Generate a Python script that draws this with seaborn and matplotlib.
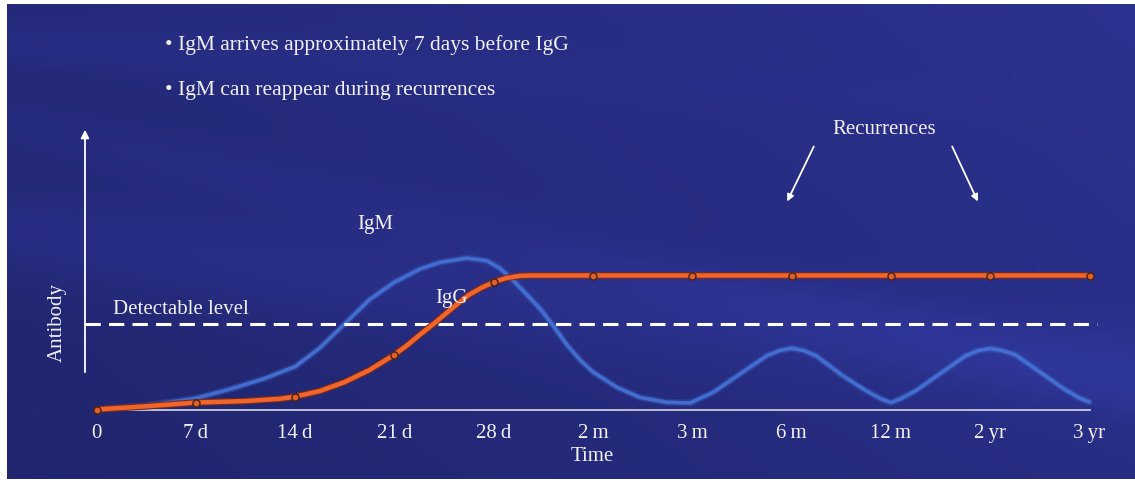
import numpy as np
import pandas as pd
import matplotlib
matplotlib.use("Agg")
import matplotlib.pyplot as plt
import matplotlib.patheffects as pe
import seaborn as sns

# tick categories along the time axis
time_labels = ['0', '7\u2009d', '14\u2009d', '21\u2009d', '28\u2009d', '2\u2009m', '3\u2009m',
               '6\u2009m', '12\u2009m', '2\u2009yr', '3\u2009yr']

# IgG curve (position on tick scale, relative antibody level)
igg_x = [0, 0.5, 1, 1.5, 1.85, 2, 2.25, 2.5, 2.75, 3, 3.13, 3.26, 3.39, 3.5, 3.63, 3.75, 3.88, 4,
         4.12, 4.27, 4.4, 5, 6, 7, 8, 9, 10]
igg_y = [0, 2.4, 5.2, 6.3, 8.0, 9.6, 13.8, 20.5, 29.5, 40.9, 48, 56, 63.6, 70.5, 78.5, 85.5, 91, 95,
         98, 99.8, 100, 100, 100, 100, 100, 100, 100]

# IgG markers sit on every tick
igg_mark_x = [0, 1, 2, 3, 4, 5, 6, 7, 8, 9, 10]
igg_mark_y = [0, 5.2, 9.6, 40.9, 95, 100, 100, 100, 100, 100, 100]

# IgM curve
igm_x = [0, 0.5, 1, 1.35, 1.68, 2, 2.25, 2.5, 2.75, 3, 3.26, 3.46, 3.73, 3.93, 4.06, 4.2, 4.33, 4.47,
         4.6, 4.74, 4.87, 5, 5.24, 5.47, 5.74, 5.98, 6.21, 6.48, 6.75, 6.88, 7, 7.12, 7.25, 7.5, 7.75,
         7.9, 8, 8.1, 8.25, 8.5, 8.75, 8.88, 9, 9.12, 9.25, 9.5, 9.75, 9.9, 10]
igm_y = [0, 2.8, 8.4, 15.3, 22.8, 32, 46, 64, 82, 95, 104.9, 109.8, 113, 111, 105.5, 96, 86, 75,
         62.5, 48, 37, 28, 16.6, 9.1, 5.4, 4.9, 12.8, 26.5, 40.1, 44, 45.7, 44, 40, 26, 14,
         8, 5.2, 8, 14, 27, 40, 44, 45.5, 44, 41, 28, 15, 8.5, 5.6]

detect_level = 63.6

sns.set_style("white")
plt.rcParams['font.family'] = ['Liberation Serif', 'DejaVu Serif']

W, H = 1135, 485
fig = plt.figure(figsize=(W / 100, H / 100), dpi=100)
fig.patch.set_facecolor('white')

# blue panel
ax = fig.add_axes([7 / W, 5 / H, 1128 / W, 475 / H])
xl = ((7 - 96.5) / 99.3, (1135 - 96.5) / 99.3)
yl = ((410.5 - 480) / 1.34, (410.5 - 5) / 1.34)
ax.set_xlim(*xl)
ax.set_ylim(*yl)

# background shading with soft light streaks
gh, gw = 240, 560
vv, uu = np.mgrid[0:1:gh * 1j, 0:1:gw * 1j]
c_dark = np.array([0.11, 0.125, 0.38])
c_light = np.array([0.19, 0.22, 0.62])
t = 0.40 + 0.35 * uu - 0.18 * (1 - vv)
t += 0.22 * np.exp(-((vv - (0.52 - 0.30 * uu)) / 0.10) ** 2)
t += 0.15 * np.exp(-((vv - (0.92 - 0.15 * uu)) / 0.05) ** 2) * (1 - uu)
t += 0.12 * np.exp(-((vv - (0.75 - 0.55 * uu)) / 0.06) ** 2)
t = np.clip(t, 0, 1)
img = c_dark[None, None, :] + (c_light - c_dark)[None, None, :] * t[:, :, None]
ax.imshow(img, extent=[xl[0], xl[1], yl[0], yl[1]], aspect='auto', zorder=0, origin='lower')

txt_c = '#f0f0f7'

# curves
igm_df = pd.DataFrame({'x': igm_x, 'y': igm_y})
sns.lineplot(data=igm_df, x='x', y='y', ax=ax, color='#4676da', lw=2.6, alpha=0.85,
             sort=False, zorder=3, solid_joinstyle='round', solid_capstyle='round',
             path_effects=[pe.Stroke(linewidth=5, foreground='#4676da', alpha=0.25), pe.Normal()])
igg_df = pd.DataFrame({'x': igg_x, 'y': igg_y})
sns.lineplot(data=igg_df, x='x', y='y', ax=ax, color='#f0652b', lw=3.2, sort=False, zorder=5,
             solid_joinstyle='round',
             path_effects=[pe.Stroke(linewidth=4.8, foreground='#7a2a18'), pe.Normal()])
sns.scatterplot(x=igg_mark_x, y=igg_mark_y, ax=ax, color='#e0602a', edgecolor='#4a2010',
                s=26, linewidth=1.0, zorder=6)

# detectable level
ax.hlines(detect_level, (85 - 96.5) / 99.3, (1097 - 96.5) / 99.3, colors='white',
          linestyles=(0, (5, 2.7)), lw=2.2, zorder=4)

# axes styling
for s in ['top', 'right', 'left']:
    ax.spines[s].set_visible(False)
ax.spines['bottom'].set_position(('data', 0))
ax.spines['bottom'].set_bounds(0, 10)
ax.spines['bottom'].set_color('#c9cadb')
ax.spines['bottom'].set_linewidth(1.3)
ax.spines['bottom'].set_zorder(2)
ax.set_xticks(range(len(time_labels)))
ax.set_xticklabels(time_labels)
ax.tick_params(axis='x', direction='inout', length=12, width=1.2, color='#c9cadb',
               labelcolor=txt_c, labelsize=15, pad=4)
ax.set_yticks([])
ax.set_xlabel('')
ax.set_ylabel('')

# y arrow
ax.annotate('', xy=(-0.116, (410.5 - 128) / 1.34), xytext=(-0.116, (410.5 - 376) / 1.34),
            arrowprops=dict(arrowstyle='-|>', color='white', lw=1.3, mutation_scale=12))

fs = 15
ax.text(4.995, (410.5 - 457) / 1.34, 'Time', color=txt_c, fontsize=fs, ha='center', va='center')
ax.text((57 - 96.5) / 99.3, (410.5 - 322) / 1.34, 'Antibody', color=txt_c, fontsize=fs,
        rotation=90, ha='center', va='center')
ax.text((113 - 96.5) / 99.3, (410.5 - 310) / 1.34, 'Detectable level', color=txt_c, fontsize=fs,
        ha='left', va='center')
ax.text((375 - 96.5) / 99.3, (410.5 - 224) / 1.34, 'IgM', color=txt_c, fontsize=fs,
        ha='center', va='center')
ax.text((451 - 96.5) / 99.3, (410.5 - 299) / 1.34, 'IgG', color=txt_c, fontsize=fs,
        ha='center', va='center', zorder=7)
ax.text((884 - 96.5) / 99.3, (410.5 - 130) / 1.34, 'Recurrences', color=txt_c, fontsize=fs,
        ha='center', va='center')
for (x0, x1) in [(815, 786), (951, 979)]:
    ax.annotate('', xy=((x1 - 96.5) / 99.3, (410.5 - 205) / 1.34),
                xytext=((x0 - 96.5) / 99.3, (410.5 - 145) / 1.34),
                arrowprops=dict(arrowstyle='-|>', color='white', lw=1.3, mutation_scale=10))

ax.text((165 - 96.5) / 99.3, (410.5 - 45) / 1.34, '• IgM arrives approximately 7 days before IgG',
        color=txt_c, fontsize=15.5, ha='left', va='center')
ax.text((165 - 96.5) / 99.3, (410.5 - 90) / 1.34, '• IgM can reappear during recurrences',
        color=txt_c, fontsize=15.5, ha='left', va='center')

fig.savefig('out.png', dpi=100, facecolor='white')
